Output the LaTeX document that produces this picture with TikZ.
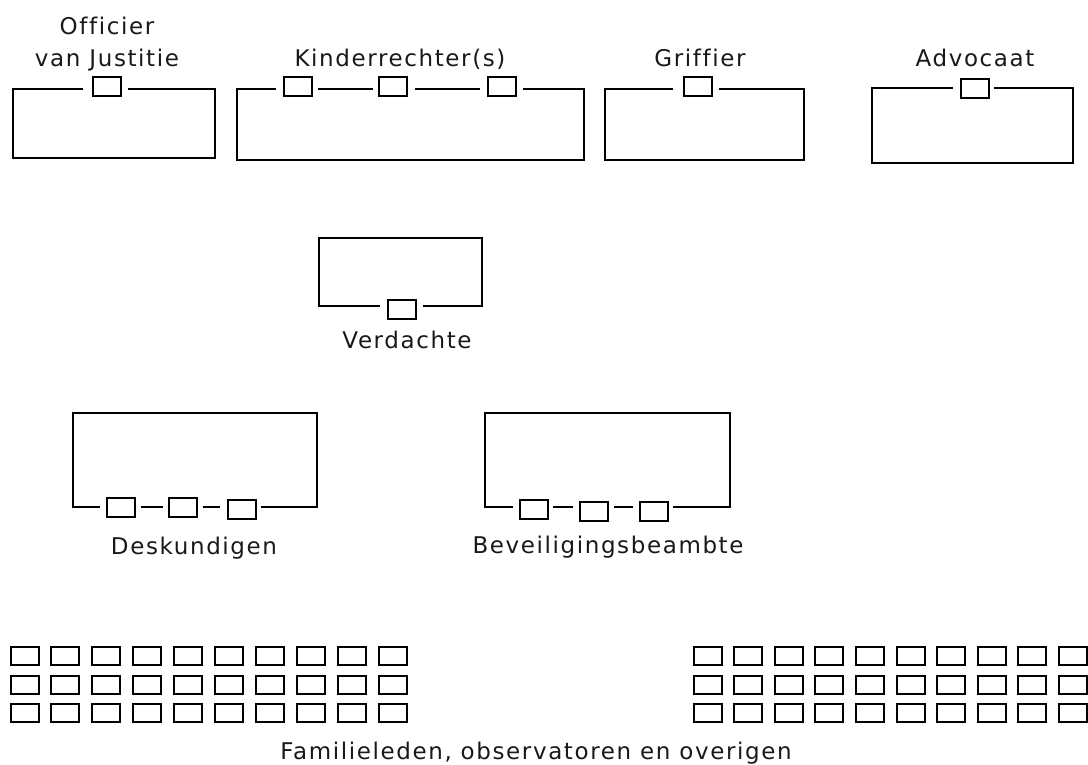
\documentclass[tikz,border=0pt]{standalone}
\usepackage{fontspec}
\setmainfont{DejaVu Sans}[LetterSpace=7,Ligatures={NoCommon}]
\begin{document}
\begin{tikzpicture}[x=1pt,y=-1pt,
  seat/.style={draw, rectangle, minimum width=28pt, minimum height=19pt, inner sep=0pt, line width=2pt},
  gseat/.style={seat, minimum height=18pt},
  lbl/.style={anchor=base, inner sep=0pt, text=black!90, font=\fontsize{23}{32}\selectfont},
  tbl/.style={draw, line width=2pt, line join=miter}]
\useasboundingbox (0,0) rectangle (1088,765);

% Officier van Justitie
\node[seat] (oj) at (107,87) {};
\draw[tbl] (83,89) -- (13,89) -- (13,158) -- (215,158) -- (215,89) -- (128,89);
\node[lbl] (ojl1) at (107,35) {Officier};
\node[lbl] (ojl2) at (107,67) {van Justitie};

% Kinderrechter(s)
\node[seat] (kr1) at (297.5,87) {};
\node[seat] (kr2) at (393,87) {};
\node[seat] (kr3) at (502,87) {};
\draw[tbl] (276,89) -- (237,89) -- (237,160) -- (584,160) -- (584,89) -- (523,89);
\draw[tbl] (318,89) -- (373,89);
\draw[tbl] (415,89) -- (480,89);
\node[lbl] (krl) at (400,67) {Kinderrechter(s)};

% Griffier
\node[seat] (gr) at (698,87) {};
\draw[tbl] (673,89) -- (605,89) -- (605,160) -- (804,160) -- (804,89) -- (719,89);
\node[lbl] (grl) at (700,67) {Griffier};

% Advocaat
\node[seat] (ad) at (974.5,89) {};
\draw[tbl] (953,88) -- (872,88) -- (872,163) -- (1073,163) -- (1073,88) -- (994,88);
\node[lbl] (adl) at (975,67) {Advocaat};

% Verdachte
\node[seat] (vd) at (401.5,309.5) {};
\draw[tbl] (380,306) -- (319,306) -- (319,238) -- (482,238) -- (482,306) -- (423,306);
\node[lbl] (vdl) at (407,348) {Verdachte};

% Deskundigen
\node[seat] (dk1) at (120.5,507.5) {};
\node[seat] (dk2) at (183,507.5) {};
\node[seat] (dk3) at (241.5,509.5) {};
\draw[tbl] (100,507) -- (73,507) -- (73,413) -- (317,413) -- (317,507) -- (261,507);
\draw[tbl] (141,507) -- (163,507);
\draw[tbl] (203,507) -- (220,507);
\node[lbl] (dkl) at (194,554) {Deskundigen};

% Beveiligingsbeambte
\node[seat] (bv1) at (534,509.5) {};
\node[seat] (bv2) at (594,511) {};
\node[seat] (bv3) at (654,511) {};
\draw[tbl] (513,507) -- (485,507) -- (485,413) -- (730,413) -- (730,507) -- (673,507);
\draw[tbl] (553,507) -- (573,507);
\draw[tbl] (614,507) -- (633,507);
\node[lbl] (bvl) at (608,553) {Beveiligingsbeambte};

% Publieke tribune
\foreach \r/\y in {0/656,1/684.5,2/713} {
  \foreach \c in {0,...,9} {
    \node[gseat] (gl-\r-\c) at ({24.5+40.9*\c},\y) {};
    \node[gseat] (gr-\r-\c) at ({707.5+40.6*\c},\y) {};
  }
}
\node[lbl] (pub) at (536,759) {Familieleden, observatoren en overigen};
\end{tikzpicture}
\end{document}
